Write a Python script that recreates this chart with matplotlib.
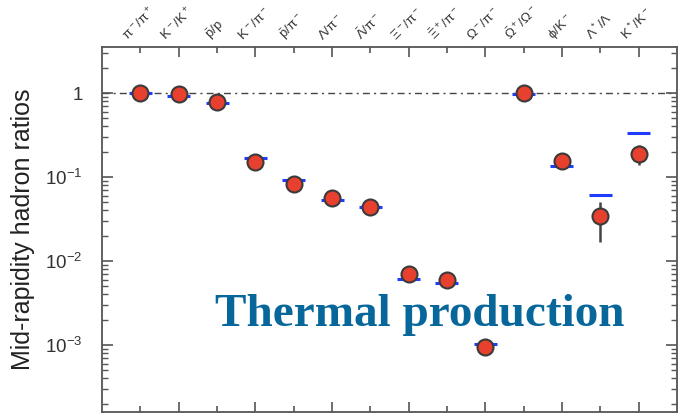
import numpy as np
import matplotlib.pyplot as plt
from matplotlib.ticker import FixedLocator, LogLocator, NullFormatter

plt.rcParams['font.family'] = ['Liberation Sans', 'DejaVu Sans']
plt.rcParams['mathtext.fontset'] = 'custom'
plt.rcParams['mathtext.rm'] = 'Liberation Sans'
plt.rcParams['mathtext.it'] = 'Liberation Sans'
plt.rcParams['mathtext.bf'] = 'Liberation Sans:bold'

# ratios, data vs thermal model
ratio_labels = [r'$\pi^-/\pi^+$', r'$K^-/K^+$', r'$\bar{p}/p$', r'$K^-/\pi^-$',
                r'$\bar{p}/\pi^-$', r'$\Lambda/\pi^-$', r'$\bar{\Lambda}/\pi^-$',
                r'$\Xi^-/\pi^-$', r'$\bar{\Xi}^+/\pi^-$', r'$\Omega^-/\pi^-$',
                r'$\bar{\Omega}^+/\Omega^-$', r'$\phi/K^-$', r'$\Lambda^*/\Lambda$',
                r'$K^*/K^-$']
measured = [1.01, 0.965, 0.775, 0.152, 0.0826, 0.0567, 0.044,
            0.00695, 0.00594, 0.00095, 1.01, 0.156, 0.0343, 0.188]
err_low = [0, 0, 0, 0, 0, 0, 0, 0, 0, 0, 0, 0, 0.0173, 0.049]
err_high = [0, 0, 0, 0, 0, 0, 0, 0, 0, 0, 0, 0, 0.0165, 0.05]
thermal = [1.0, 0.93, 0.76, 0.17, 0.092, 0.0532, 0.044,
           0.0061, 0.00542, 0.00103, 0.965, 0.136, 0.061, 0.33]

x = np.arange(1, len(ratio_labels) + 1)

fig = plt.figure(figsize=(6.81, 4.13), dpi=100)
ax = fig.add_axes([0.1498, 0.0024, 0.8443, 0.8838])

ax.set_yscale('log')
ax.set_xlim(0, 15)
ax.set_ylim(10 ** -3.798, 10 ** 0.548)

ax.axhline(1.0, color='#444444', lw=1.0, ls=(0, (5, 3, 1.5, 3)), zorder=1)

# thermal model bars
ax.hlines(thermal, x - 0.3, x + 0.3, color='#1f3cff', lw=2.2, zorder=2)

# measured values
ax.errorbar(x, measured, yerr=[err_low, err_high], fmt='none',
            ecolor='#444444', elinewidth=1.8, capsize=0, zorder=3)
ax.plot(x, measured, 'o', ms=11.5, mfc='#e8402f', mec='#3a3a3a', mew=1.5, zorder=4)

ax.text(0.553, 0.237, 'Thermal production', transform=ax.transAxes,
        family=['Liberation Serif', 'DejaVu Serif'], fontweight='bold',
        fontsize=34, color='#07679a', ha='center', va='baseline', zorder=5)

for s in ax.spines.values():
    s.set_color('#555555')
    s.set_linewidth(1.3)

# y ticks
ax.yaxis.set_major_locator(FixedLocator([1e-3, 1e-2, 1e-1, 1]))
ax.yaxis.set_minor_locator(LogLocator(base=10, subs=np.arange(2, 10), numticks=20))
ax.yaxis.set_minor_formatter(NullFormatter())
ax.set_yticklabels([r'$10^{-3}$', r'$10^{-2}$', r'$10^{-1}$', '1'])
ax.tick_params(axis='y', which='major', direction='in', length=8, width=1.2,
               color='#555555', labelsize=13.5, labelcolor='#333333', right=True, pad=14)
ax.tick_params(axis='y', which='minor', direction='in', length=4.5, width=1.0,
               color='#555555', right=True)

# x ticks: long at even, short at odd, labels on top
ax.xaxis.set_major_locator(FixedLocator(x[1::2]))
ax.xaxis.set_minor_locator(FixedLocator(x[0::2]))
ax.tick_params(axis='x', which='major', direction='in', length=7, width=1.2,
               color='#555555', top=True, bottom=True, labelbottom=False, labeltop=False)
ax.tick_params(axis='x', which='minor', direction='in', length=4.5, width=1.2,
               color='#555555', top=True, bottom=True)

for xi, lab in zip(x, ratio_labels):
    ax.annotate(lab, xy=(xi, 1), xycoords=('data', 'axes fraction'),
                xytext=(-1, 3), textcoords='offset points', rotation=45,
                ha='center', va='bottom', fontsize=9.5, color='#333333')

ax.set_ylabel('Mid-rapidity hadron ratios', fontsize=18, color='#222222', labelpad=7)

fig.savefig('out.png', dpi=100)
